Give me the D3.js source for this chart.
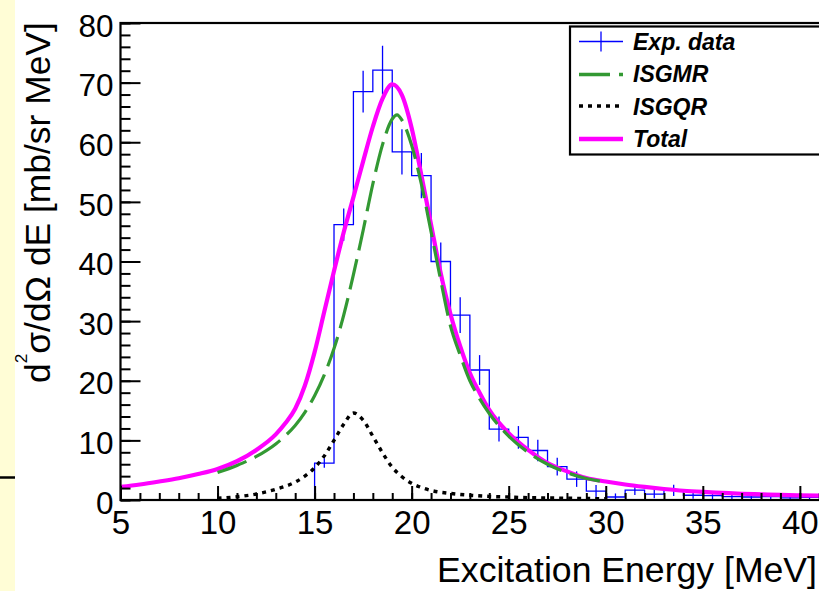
<!DOCTYPE html>
<html><head><meta charset="utf-8">
<script src="https://cdn.jsdelivr.net/npm/d3@7"></script>
<style>
body{margin:0;background:#fff;}
svg{display:block;}
text{font-family:"Liberation Sans",Arial,Helvetica,sans-serif;}
</style>
</head><body>
<svg id="c" width="819" height="591"></svg>
<script>
// ---- data ----
const binLow   = [15,16,17,18,19,20,21,22,23,24,25,26,27,28,29,30,31,32,33,34,35,36,37,38,39,40,41];
const binValue = [6.2,46.2,68.5,72.1,58.4,54.4,40.0,31.0,21.8,11.9,10.5,8.3,5.6,3.5,1.5,0.5,1.65,1.0,1.6,0.8,0.75,0.55,0.5,0.55,0.35,0.45,0.4];
const binError = [0.8,2.7,3.5,4.1,3.8,3.8,3.2,3.0,2.5,2.1,1.9,1.8,1.5,1.3,1.0,0.6,0.8,0.7,0.95,0.6,0.6,0.5,0.5,0.5,0.45,0.5,0.45];

const totalE = [5,6,7,8,9,10,11,12,13,13.5,14,14.5,15,15.5,16,16.5,17,17.5,18,18.5,19,19.5,20,20.5,21,21.5,22,22.5,23,23.5,24,25,26,27,28,29,30,31,32,33,34,35,36,37,38,39,40,41,42];
const totalV = [2.2,2.6,3.1,3.65,4.35,5.2,6.5,8.4,11.0,12.9,15.3,19.2,24.8,31.6,38.4,44.9,50.8,56.8,62.6,67.3,69.7,67.9,62.4,54.5,46.2,38.0,31.2,25.8,21.3,18.0,15.1,11.2,8.4,6.2,4.8,3.7,3.1,2.6,2.2,1.85,1.55,1.35,1.2,1.05,0.95,0.85,0.78,0.72,0.68];

const gmrE = [10,11,12,13,13.5,14,14.5,15,15.5,16,16.5,17,17.5,18,18.5,19,19.25,19.5,20,20.5,21,21.5,22,22.5,23,23.5,24,25,26,27,28,29,30];
const gmrV = [4.6,5.8,7.3,9.4,10.8,12.5,14.7,17.5,21.0,25.4,31.0,37.8,45.2,53.0,59.6,63.9,64.6,63.7,59.5,53.0,45.0,36.8,29.2,24.3,20.0,17.0,14.5,10.7,8.0,6.0,4.6,3.6,3.0];

const gqrE = [10,11,12,13,14,14.5,15,15.5,16,16.5,17,17.5,18,18.5,19,19.5,20,20.5,21,22,23,24,25,26,27,28,29,30];
const gqrV = [0.3,0.55,1.0,1.8,3.0,4.0,5.4,7.4,10.0,12.7,14.6,13.4,10.7,7.9,5.5,3.9,2.8,2.1,1.6,1.1,0.8,0.6,0.5,0.4,0.35,0.3,0.25,0.2];

const xMajorTicks = [5,10,15,20,25,30,35,40];
const xMinorTicks = d3.range(5, 42, 1);
const yMajorTicks = [0,10,20,30,40,50,60,70,80];
const yMinorTicks = d3.range(0, 81, 2);
const legendLabels = ["Exp. data","ISGMR","ISGQR","Total"];
const xTitle = "Excitation Energy [MeV]";

// ---- drawing ----
const svg = d3.select("#c");
const L = 120.5, T = 23, B = 500, R = 120.5 + 36.2*19.41;
const x = d3.scaleLinear().domain([5, 41.2]).range([L, R]);
const y = d3.scaleLinear().domain([0, 80]).range([B, T]);

// left yellow strip
svg.append("rect").attr("x",0).attr("y",0).attr("width",15).attr("height",591).attr("fill","#fffdd6");
svg.append("line").attr("x1",0).attr("x2",15).attr("y1",477.5).attr("y2",477.5).attr("stroke","#000").attr("stroke-width",2.5);

svg.append("clipPath").attr("id","clip").append("rect")
  .attr("x",L).attr("y",T).attr("width",R-L).attr("height",B-T);
const plot = svg.append("g").attr("clip-path","url(#clip)");

// histogram steps
let p = d3.path();
p.moveTo(x(binLow[0]), y(0));
binLow.forEach((e,i)=>{ p.lineTo(x(e), y(binValue[i])); p.lineTo(x(e+1), y(binValue[i])); });
plot.append("path").attr("d", p.toString()).attr("fill","none").attr("stroke","#0000ff").attr("stroke-width",1.3);
// error bars
plot.selectAll("line.err").data(binLow).join("line").attr("class","err")
  .attr("x1",(e)=>x(e+0.5)).attr("x2",(e)=>x(e+0.5))
  .attr("y1",(e,i)=>y(binValue[i]-binError[i])).attr("y2",(e,i)=>y(binValue[i]+binError[i]))
  .attr("stroke","#0000ff").attr("stroke-width",1.3);

const line = d3.line().x(d=>x(d[0])).y(d=>y(d[1])).curve(d3.curveMonotoneX);
plot.append("path").attr("d", line(totalE.map((e,i)=>[e,totalV[i]])))
  .attr("fill","none").attr("stroke","#ff00ff").attr("stroke-width",4.2);
plot.append("path").attr("d", line(gmrE.map((e,i)=>[e,gmrV[i]])))
  .attr("fill","none").attr("stroke","#339933").attr("stroke-width",3.2).attr("stroke-dasharray","31,9");
plot.append("path").attr("d", line(gqrE.map((e,i)=>[e,gqrV[i]])))
  .attr("fill","none").attr("stroke","#000").attr("stroke-width",3.4).attr("stroke-dasharray","4,5");

// axes
const gx = svg.append("g").attr("transform",`translate(0,${B})`);
gx.call(d3.axisBottom(x).tickValues(xMinorTicks).tickSize(-7).tickFormat(""));
const gx2 = svg.append("g").attr("transform",`translate(0,${B})`);
gx2.call(d3.axisBottom(x).tickValues(xMajorTicks).tickSize(-14).tickPadding(10.5).tickFormat(d3.format("d")));
const gy = svg.append("g").attr("transform",`translate(${L},0)`);
gy.call(d3.axisLeft(y).tickValues(yMinorTicks).tickSize(-10).tickFormat(""));
const gy2 = svg.append("g").attr("transform",`translate(${L},0)`);
gy2.call(d3.axisLeft(y).tickValues(yMajorTicks).tickSize(-20).tickPadding(7).tickFormat(d3.format("d")));
[gx,gx2,gy,gy2].forEach(g=>{
  g.select(".domain").remove();
  g.selectAll(".tick line").attr("stroke","#000").attr("stroke-width",2);
});
gx2.selectAll(".tick text").attr("font-size",33).attr("fill","#000").attr("font-family","Liberation Sans, Arial, sans-serif");
gy2.selectAll(".tick text").attr("font-size",31.5).attr("fill","#000").attr("dy","0.42em").attr("font-family","Liberation Sans, Arial, sans-serif");

// frame
svg.append("rect").attr("x",L).attr("y",T).attr("width",R-L).attr("height",B-T)
  .attr("fill","none").attr("stroke","#000").attr("stroke-width",2.2);

// x title
const xt = svg.append("text").attr("text-anchor","end").attr("font-size",35).attr("fill","#000").text(xTitle);
const xl = xt.node().getComputedTextLength();
xt.attr("transform",`translate(817,582) scale(${380/xl},1)`);

// y title
const yt = svg.append("text").attr("font-size",35).attr("fill","#000");
yt.append("tspan").text("d");
yt.append("tspan").attr("dy",-23).attr("font-size",17).text("2");
yt.append("tspan").attr("dy",23).text("\u03C3/d\u03A9 dE [mb/sr MeV]");
const yl = yt.node().getComputedTextLength();
yt.attr("transform",`translate(50,383) rotate(-90) scale(${361/yl},1)`);

// legend
const lg = svg.append("g");
lg.append("rect").attr("x",570).attr("y",26.5).attr("width",270).attr("height",128)
  .attr("fill","#fff").attr("stroke","#000").attr("stroke-width",2.2);
const rowY = [41.5, 74.5, 106, 139];
const baseY = [49.5, 82, 114.5, 147];
lg.append("line").attr("x1",579).attr("x2",623).attr("y1",rowY[0]).attr("y2",rowY[0]).attr("stroke","#0000ff").attr("stroke-width",1.3);
lg.append("line").attr("x1",601).attr("x2",601).attr("y1",rowY[0]-10).attr("y2",rowY[0]+10).attr("stroke","#0000ff").attr("stroke-width",1.3);
lg.append("line").attr("x1",579).attr("x2",623).attr("y1",rowY[1]).attr("y2",rowY[1]).attr("stroke","#339933").attr("stroke-width",3.5).attr("stroke-dasharray","31,9");
lg.append("line").attr("x1",579).attr("x2",623).attr("y1",rowY[2]).attr("y2",rowY[2]).attr("stroke","#000").attr("stroke-width",3.4).attr("stroke-dasharray","4,5");
lg.append("line").attr("x1",579).attr("x2",623).attr("y1",rowY[3]).attr("y2",rowY[3]).attr("stroke","#ff00ff").attr("stroke-width",4.5);
lg.selectAll("text.lab").data(legendLabels).join("text").attr("class","lab")
  .attr("x",633).attr("y",(d,i)=>baseY[i]).attr("font-size",23).attr("font-weight","bold").attr("font-style","italic")
  .attr("fill","#000").text(d=>d);
</script>
</body></html>
